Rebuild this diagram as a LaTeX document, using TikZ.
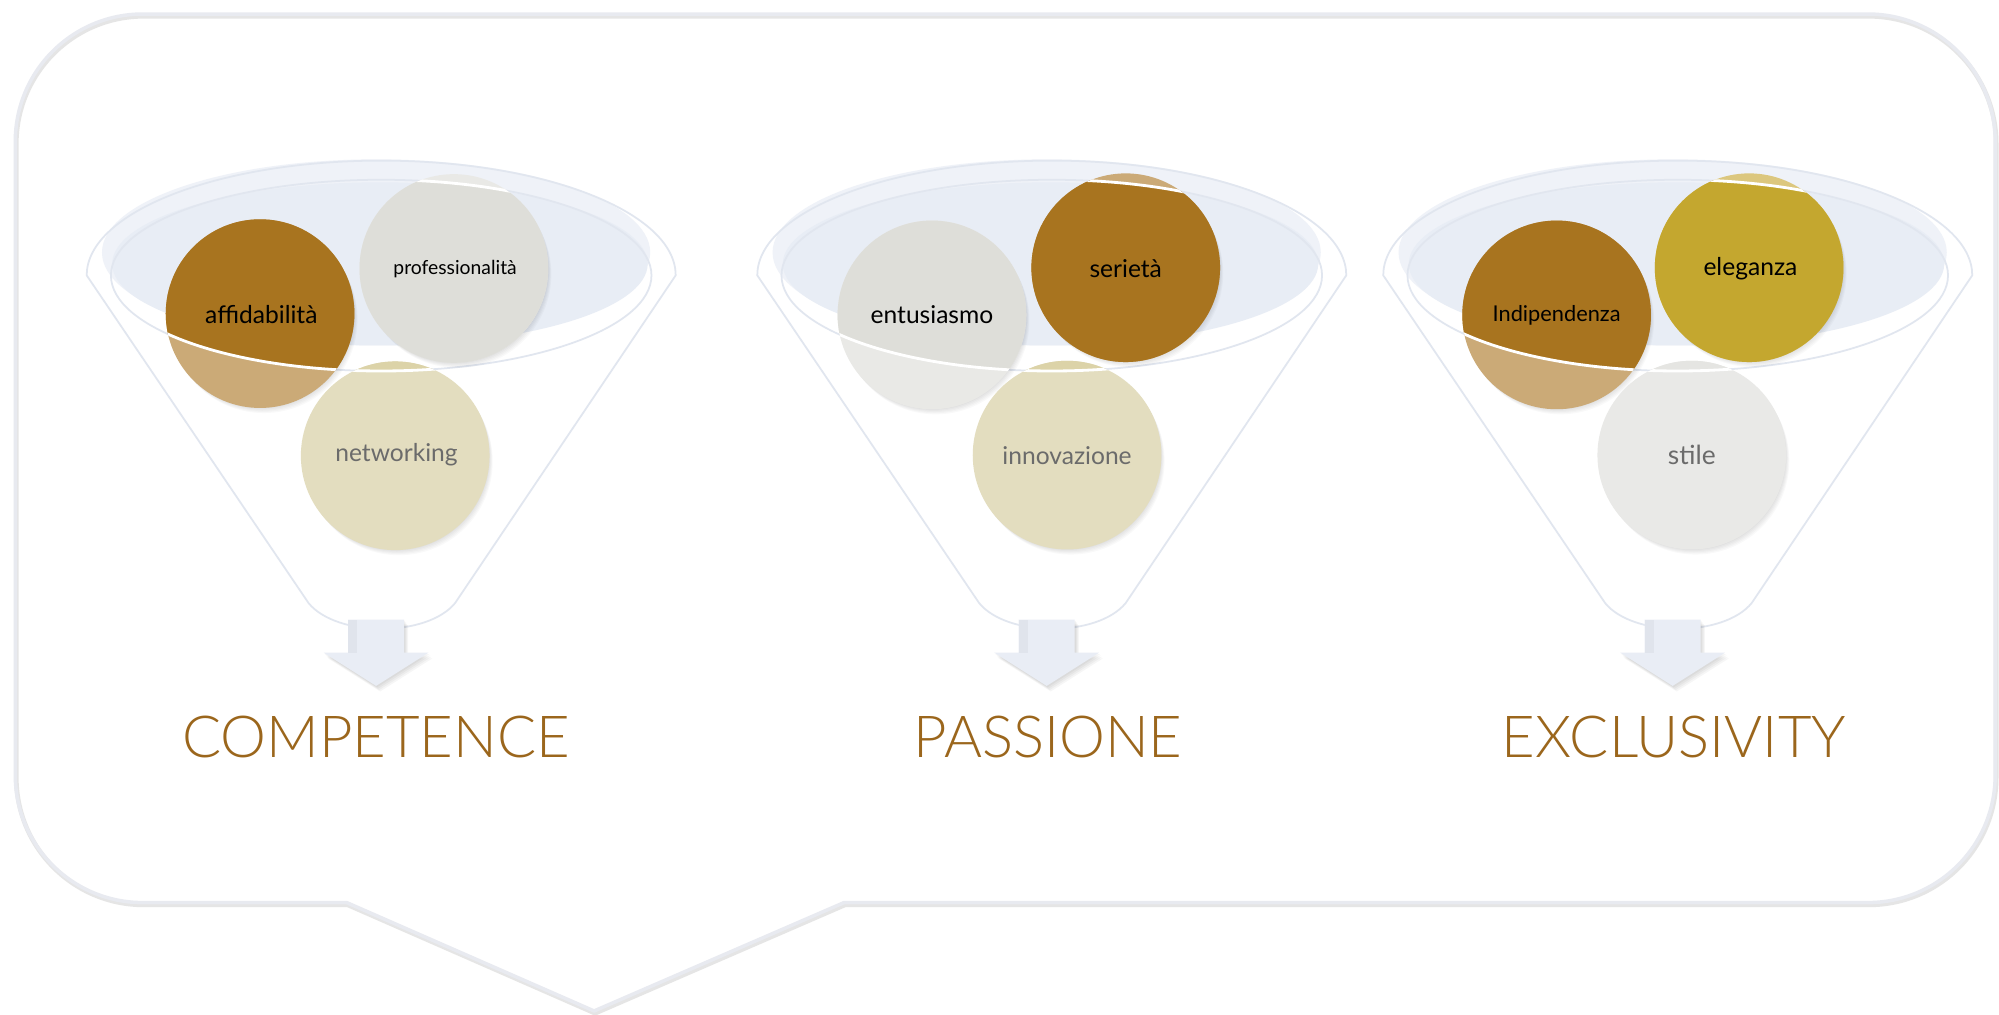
\documentclass[tikz,border=0pt]{standalone}
\usepackage{fontspec}
\setmainfont{Lato}
\newfontfamily\titlefont{Lato Light}
\definecolor{brownIn}{HTML}{A8741F}
\definecolor{brownOut}{HTML}{CBAA77}
\definecolor{greyIn}{HTML}{DEDED9}
\definecolor{greyOut}{HTML}{E9E9E6}
\definecolor{beigeIn}{HTML}{DCD3A8}
\definecolor{beigeOut}{HTML}{E3DDBF}
\definecolor{goldIn}{HTML}{C4A72F}
\definecolor{goldOut}{HTML}{DCC77E}
\definecolor{stileIn}{HTML}{E5E5E2}
\definecolor{stileOut}{HTML}{E9E9E7}
\definecolor{rimA}{HTML}{EFF2F8}
\definecolor{rimB}{HTML}{E8EDF5}
\definecolor{lineC}{HTML}{E1E6EF}
\definecolor{titleC}{HTML}{9B661C}
\definecolor{arrowC}{HTML}{E9EDF5}
\definecolor{callC}{HTML}{E8EAF0}
\definecolor{softtext}{HTML}{6B6B6B}
\tikzset{
  funnelline/.style={draw=lineC, line width=0.5pt},
  lbl/.style={inner sep=0pt, text=black, font=\fontsize{7}{8}\selectfont},
  lblsoft/.style={lbl, text=softtext},
  ttl/.style={inner sep=0pt, text=titleC, font=\titlefont\fontsize{16.5}{20}\selectfont},
}
\newcommand{\clipinner}{\clip (299,216) ellipse [x radius=212, y radius=75];}
\newcommand{\ball}[4]{%
  \foreach \k in {1,...,5} {\fill[black, opacity=0.022] (#1+0.6*\k,#2+0.9*\k) circle[radius=73.5];}
  \fill[#3] (#1,#2) circle[radius=74];
  \begin{scope}\clipinner\fill[#4] (#1,#2) circle[radius=74];\end{scope}
  \begin{scope}\clip (#1,#2) circle[radius=74];\draw[white, line width=0.8pt] (299,216) ellipse [x radius=212, y radius=75];\end{scope}
}
\newcommand{\funnelbase}{%
  \fill[rimA] (295,198) ellipse [x radius=215, y radius=73];
  \fill[rimB] (298,207) ellipse [x radius=210, y radius=64];
  \draw[funnelline] (299,216) ellipse [x radius=212, y radius=75];
  \draw[funnelline] (68,216) arc[start angle=180, end angle=360, x radius=231, y radius=90] -- (357,473) .. controls (335,500) and (264,500) .. (242,473) -- cycle;
  \foreach \k in {1,...,4} {\fill[black, opacity=0.035, shift={(0.8*\k,1.1*\k)}] (273,486) -- (317,486) -- (317,512) -- (336,512) -- (295,538) -- (254,512) -- (273,512) -- cycle;}
  \fill[arrowC] (273,486) -- (317,486) -- (317,512) -- (336,512) -- (295,538) -- (254,512) -- (273,512) -- cycle;
  \fill[black, opacity=0.035] (273,486) rectangle (280,512);
}
\newcommand{\callout}[1]{\draw[#1] (272,708) -- (112,708) arc[start angle=90, end angle=180, radius=100] -- (12,111) arc[start angle=180, end angle=270, radius=100] -- (1465,11) arc[start angle=270, end angle=360, radius=100] -- (1565,608) arc[start angle=0, end angle=90, radius=100] -- (662,708) -- (466,793) -- cycle;}
\begin{document}
\begin{tikzpicture}[x=0.012749cm, y=-0.012749cm]
\fill[white] (0,0) rectangle (1568,796.1);
\useasboundingbox (0,0) rectangle (1568,796.1);
% callout
\begin{scope}[shift={(0.8,1.8)}]\callout{line width=1.3pt, black!10, line join=round}\end{scope}
\callout{line width=1pt, callC, line join=round}
% funnel 1
\begin{scope}
  \funnelbase
  \ball{204}{246}{brownOut}{brownIn}
  \ball{356}{210.6}{greyOut}{greyIn}
  \ball{310}{357.5}{beigeOut}{beigeIn}
  \node[lbl] (a1) at (205,247) {affidabilità};
  \node[lbl, font=\fontsize{5.5}{6}\selectfont] (b1) at (357,211) {professionalità};
  \node[lblsoft] (c1) at (311,357) {networking};
  \node[ttl] (t1) at (295,578) {COMPETENCE};
\end{scope}
% funnel 2
\begin{scope}[shift={(526,0)}]
  \funnelbase
  \ball{205}{247}{greyOut}{greyIn}
  \ball{357}{210}{brownOut}{brownIn}
  \ball{311}{357}{beigeOut}{beigeIn}
  \node[lbl] (a2) at (205,247) {entusiasmo};
  \node[lbl] (b2) at (357,211) {serietà};
  \node[lblsoft] (c2) at (311,357) {innovazione};
  \node[ttl] (t2) at (296,578) {PASSIONE};
\end{scope}
% funnel 3
\begin{scope}[shift={(1017,0)}]
  \funnelbase
  \ball{204}{247}{brownOut}{brownIn}
  \ball{355}{210}{goldOut}{goldIn}
  \ball{310}{357}{stileOut}{stileIn}
  \node[lbl, font=\fontsize{6.2}{7}\selectfont] (a3) at (204,247) {Indipendenza};
  \node[lbl] (b3) at (356,211) {eleganza};
  \node[lblsoft, font=\fontsize{7.5}{8}\selectfont] (c3) at (310,357) {stile};
  \node[ttl] (t3) at (296,578) {EXCLUSIVITY};
\end{scope}
\end{tikzpicture}
\end{document}
